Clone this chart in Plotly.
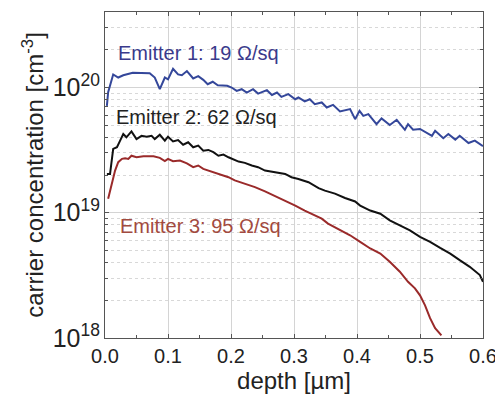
import math
import plotly.graph_objects as go

# Emitter 1 (19 Ohm/sq)
depth1 = [0.003, 0.005, 0.013, 0.021, 0.029, 0.044, 0.071, 0.079, 0.087, 0.095, 0.100, 0.108, 0.116, 0.122,
          0.130, 0.140, 0.148, 0.156, 0.163, 0.171, 0.179, 0.194, 0.201, 0.209, 0.217, 0.225, 0.235, 0.243,
          0.257, 0.265, 0.273, 0.280, 0.291, 0.302, 0.307, 0.317, 0.325, 0.333, 0.344, 0.352, 0.362, 0.373,
          0.389, 0.397, 0.404, 0.410, 0.418, 0.431, 0.439, 0.452, 0.463, 0.476, 0.481, 0.489, 0.500, 0.519,
          0.524, 0.537, 0.545, 0.556, 0.563, 0.577, 0.587, 0.598, 0.600]
conc1 = [7.13e19, 9.16e19, 1.27e20, 1.20e20, 1.25e20, 1.31e20, 1.30e20, 1.20e20, 9.68e19, 1.20e20, 1.16e20,
         1.41e20, 1.27e20, 1.25e20, 1.35e20, 1.18e20, 1.23e20, 1.15e20, 1.06e20, 1.11e20, 1.04e20, 1.03e20,
         9.98e19, 9.38e19, 9.68e19, 9.10e19, 9.68e19, 8.93e19, 9.51e19, 8.71e19, 9.10e19, 8.41e19, 8.83e19,
         8.05e19, 8.31e19, 7.73e19, 8.05e19, 7.35e19, 7.59e19, 6.92e19, 7.26e19, 6.43e19, 6.71e19, 5.58e19,
         6.50e19, 5.93e19, 6.12e19, 5.09e19, 5.66e19, 5.01e19, 5.52e19, 4.59e19, 5.09e19, 4.59e19, 4.66e19,
         4.11e19, 4.51e19, 3.93e19, 4.25e19, 3.83e19, 4.11e19, 3.60e19, 3.76e19, 3.43e19, 3.40e19]

# Emitter 2 (62 Ohm/sq)
depth2 = [0.003, 0.008, 0.013, 0.019, 0.024, 0.029, 0.034, 0.042, 0.050, 0.058, 0.066, 0.074, 0.079, 0.087,
          0.095, 0.100, 0.108, 0.116, 0.124, 0.132, 0.140, 0.148, 0.156, 0.164, 0.172, 0.180, 0.188, 0.196,
          0.212, 0.222, 0.233, 0.243, 0.254, 0.270, 0.286, 0.296, 0.307, 0.323, 0.339, 0.349, 0.365, 0.381,
          0.397, 0.405, 0.421, 0.437, 0.452, 0.468, 0.484, 0.500, 0.516, 0.532, 0.548, 0.563, 0.579, 0.595,
          0.600]
conc2 = [2.04e19, 2.04e19, 3.23e19, 3.33e19, 3.76e19, 4.25e19, 4.00e19, 4.46e19, 3.87e19, 4.11e19, 4.04e19,
         4.11e19, 3.87e19, 4.19e19, 3.76e19, 4.04e19, 3.71e19, 3.80e19, 3.49e19, 3.65e19, 3.33e19, 3.43e19,
         3.13e19, 3.17e19, 3.04e19, 2.85e19, 2.91e19, 2.77e19, 2.56e19, 2.50e19, 2.38e19, 2.31e19, 2.17e19,
         2.10e19, 2.04e19, 1.92e19, 1.86e19, 1.75e19, 1.57e19, 1.50e19, 1.42e19, 1.31e19, 1.23e19, 1.14e19,
         1.04e19, 9.82e18, 8.69e18, 7.92e18, 7.23e18, 6.41e18, 5.85e18, 5.24e18, 4.72e18, 4.18e18, 3.70e18,
         3.18e18, 2.81e18]

# Emitter 3 (95 Ohm/sq)
depth3 = [0.005, 0.011, 0.016, 0.021, 0.027, 0.032, 0.037, 0.042, 0.050, 0.061, 0.077, 0.087, 0.095, 0.100,
          0.108, 0.119, 0.130, 0.140, 0.148, 0.156, 0.167, 0.177, 0.188, 0.196, 0.206, 0.222, 0.238, 0.254,
          0.270, 0.286, 0.302, 0.317, 0.333, 0.344, 0.354, 0.389, 0.405, 0.421, 0.437, 0.452, 0.468, 0.481,
          0.492, 0.500, 0.508, 0.516, 0.524, 0.534]
conc3 = [1.29e19, 1.70e19, 2.17e19, 2.53e19, 2.69e19, 2.72e19, 2.69e19, 2.85e19, 2.77e19, 2.82e19, 2.82e19,
         2.74e19, 2.58e19, 2.69e19, 2.58e19, 2.61e19, 2.48e19, 2.31e19, 2.38e19, 2.24e19, 2.14e19, 2.07e19,
         1.98e19, 1.92e19, 1.81e19, 1.70e19, 1.60e19, 1.48e19, 1.36e19, 1.25e19, 1.14e19, 1.04e19, 9.52e18,
         8.96e18, 8.18e18, 6.61e18, 5.85e18, 5.18e18, 4.72e18, 4.06e18, 3.38e18, 2.81e18, 2.49e18, 2.19e18,
         1.82e18, 1.44e18, 1.20e18, 1.05e18]

labels = ["Emitter 1: 19 Ω/sq", "Emitter 2: 62 Ω/sq", "Emitter 3: 95 Ω/sq"]
label_pos = [(0.017, 1.9e20), (0.015, 5.8e19), (0.02, 7.9e18)]
line_colors = ["#34479a", "#111111", "#9a2a2a"]
text_colors = ["#3a3a8c", "#222222", "#a24a40"]

FONT = "Liberation Sans, Arial, sans-serif"

fig = go.Figure()
for d, c, col in zip([depth1, depth2, depth3], [conc1, conc2, conc3], line_colors):
    fig.add_trace(go.Scatter(x=d, y=c, mode="lines", line=dict(color=col, width=2), showlegend=False))

# annotations on a log axis are positioned in log10 units
for (lx, ly), txt, col in zip(label_pos, labels, text_colors):
    fig.add_annotation(x=lx, y=math.log10(ly), yref="y", xref="x", text=txt, showarrow=False,
                       xanchor="left", yanchor="middle", font=dict(size=20, color=col, family=FONT))

axis_common = dict(showline=True, linecolor="#555555", linewidth=1, mirror="ticks",
                   ticks="inside", ticklen=4, tickcolor="#555555", automargin=False,
                   gridcolor="#d4d4d4", gridwidth=1, zeroline=False,
                   tickfont=dict(size=20, color="#222222", family=FONT))

fig.update_xaxes(range=[0, 0.6], tickmode="linear", tick0=0, dtick=0.1, tickformat=".1f",
                 minor=dict(tick0=0, dtick=0.05, ticks="inside", ticklen=3, tickcolor="#555555", showgrid=False),
                 title=dict(text="depth [µm]", font=dict(size=24, color="#222222", family=FONT), standoff=0),
                 **axis_common)
fig.update_yaxes(type="log", range=[18, 20.602], dtick=1, exponentformat="power", showexponent="all",
                 minor=dict(ticks="inside", ticklen=3, tickcolor="#555555", showgrid=True,
                            gridcolor="#d8d8d8", griddash="dot", gridwidth=1),
                 title=dict(text="carrier concentration [cm<sup>-3</sup>]",
                            font=dict(size=24, color="#222222", family=FONT), standoff=2),
                 **axis_common)

# the page body has an 8px margin, so the figure is made 8px smaller to fit the 503x394 window
fig.update_layout(width=495, height=386, margin=dict(l=97, r=20, t=4, b=56),
                  paper_bgcolor="white", plot_bgcolor="white", font=dict(family=FONT))

fig.write_html("out.html")
